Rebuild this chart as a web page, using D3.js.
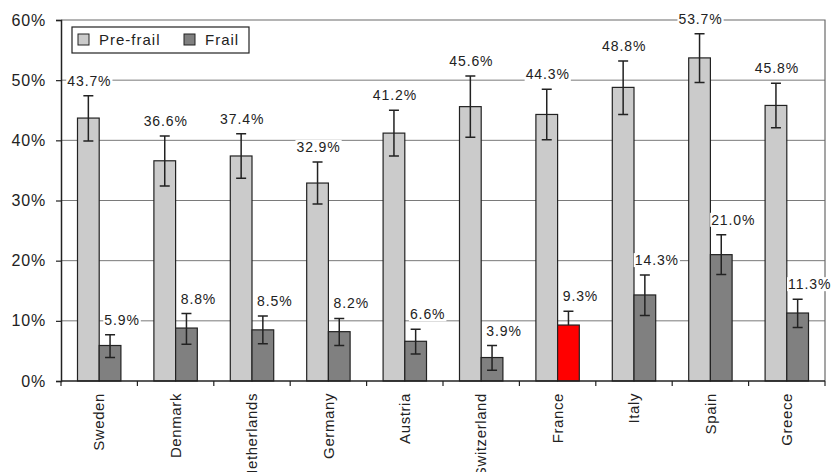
<!DOCTYPE html>
<html>
<head>
<meta charset="utf-8">
<script src="https://cdn.jsdelivr.net/npm/d3@7"></script>
<style>
  body { margin: 0; background: #fff; }
  text { font-family: "Liberation Sans", Arial, sans-serif; fill: #222; }
</style>
</head>
<body>
<svg id="drawing_region"></svg>
<script>
// data (percent)
const countries = ["Sweden", "Denmark", "Netherlands", "Germany", "Austria", "Switzerland", "France", "Italy", "Spain", "Greece"];
const series = ["Pre-frail", "Frail"];
const preFrail     = [43.7, 36.6, 37.4, 32.9, 41.2, 45.6, 44.3, 48.8, 53.7, 45.8];
const preFrailLow  = [39.9, 32.4, 33.7, 29.4, 37.4, 40.5, 40.1, 44.3, 49.6, 42.1];
const preFrailHigh = [47.4, 40.7, 41.1, 36.4, 45.0, 50.7, 48.5, 53.2, 57.7, 49.5];
const frail        = [5.9, 8.8, 8.5, 8.2, 6.6, 3.9, 9.3, 14.3, 21.0, 11.3];
const frailLow     = [3.9, 6.1, 6.2, 5.9, 4.5, 1.8, 7.0, 10.9, 17.7, 8.9];
const frailHigh    = [7.7, 11.2, 10.8, 10.4, 8.6, 5.9, 11.6, 17.6, 24.3, 13.6];
const yTicks = [0, 10, 20, 30, 40, 50, 60];
const highlight = "France";

const colors = { "Pre-frail": "#cbcbcb", "Frail": "#808080" };

// one row per bar
const bars = [];
countries.forEach((c, i) => {
    bars.push({ country: c, series: "Pre-frail", value: preFrail[i], lo: preFrailLow[i], hi: preFrailHigh[i] });
    bars.push({ country: c, series: "Frail", value: frail[i], lo: frailLow[i], hi: frailHigh[i] });
});

const config = {
    width: 834,
    height: 472,
    margin: { top: 20, right: 9, bottom: 91, left: 61 }
};
const W = config.width, H = config.height, m = config.margin;

const svg = d3.select("#drawing_region")
    .attr("width", W)
    .attr("height", H);

const x0 = d3.scaleBand()
    .domain(countries)
    .range([m.left, W - m.right]);

const x1 = d3.scaleBand()
    .domain(series)
    .range([0, x0.bandwidth()])
    .paddingOuter(0.76);

const y = d3.scaleLinear()
    .domain([0, 60])
    .range([H - m.bottom, m.top]);

// grid lines
svg.append("g")
    .selectAll("line")
    .data(yTicks.filter(t => t > 0 && t < 60))
    .enter()
    .append("line")
    .attr("x1", m.left)
    .attr("x2", W - m.right)
    .attr("y1", d => y(d))
    .attr("y2", d => y(d))
    .attr("stroke", "#7a7a7a")
    .attr("stroke-width", 1);

// top and right frame
svg.append("path")
    .attr("d", `M${m.left},${y(60)}H${W - m.right}V${y(0)}`)
    .attr("fill", "none")
    .attr("stroke", "#6a6a6a")
    .attr("stroke-width", 1.2);

const barX = d => x0(d.country) + x1(d.series);
const isHi = d => d.country === highlight && d.series === "Frail";

// bars
svg.append("g")
    .selectAll("rect")
    .data(bars.filter(d => !isHi(d)))
    .enter()
    .append("rect")
    .attr("x", barX)
    .attr("y", d => y(d.value))
    .attr("width", x1.bandwidth())
    .attr("height", d => y(0) - y(d.value))
    .attr("fill", d => colors[d.series])
    .attr("stroke", "#222")
    .attr("stroke-width", 1.2);

// error bars
const cap = 5;
const eb = svg.append("g")
    .attr("stroke", "#222")
    .attr("stroke-width", 1.5);

eb.selectAll("path")
    .data(bars)
    .enter()
    .append("path")
    .attr("fill", "none")
    .attr("d", d => {
        const cx = barX(d) + x1.bandwidth() / 2;
        return `M${cx},${y(d.lo)}V${y(d.hi)}` +
            `M${cx - cap},${y(d.hi)}H${cx + cap}` +
            `M${cx - cap},${y(d.lo)}H${cx + cap}`;
    });

// highlighted bar drawn over its error bar
svg.append("g")
    .selectAll("rect")
    .data(bars.filter(isHi))
    .enter()
    .append("rect")
    .attr("x", barX)
    .attr("y", d => y(d.value))
    .attr("width", x1.bandwidth())
    .attr("height", d => y(0) - y(d.value))
    .attr("fill", "#ff0000")
    .attr("stroke", "#222")
    .attr("stroke-width", 1.2);

// y axis
const yAxis = svg.append("g")
    .attr("transform", `translate(${m.left},0)`)
    .call(d3.axisLeft(y).tickValues(yTicks).tickFormat(d => d + "%").tickSize(5).tickPadding(10));
yAxis.select(".domain").attr("stroke", "#222").attr("stroke-width", 1.5);
yAxis.selectAll(".tick line").attr("stroke", "#222").attr("stroke-width", 1.2);
yAxis.selectAll("text")
    .style("font-family", '"Liberation Sans", Arial, sans-serif')
    .style("font-size", "16px")
    .style("letter-spacing", "0.8px")
    .attr("fill", "#222");

// x axis line, ticks between categories
const xg = svg.append("g");
xg.append("line")
    .attr("x1", m.left)
    .attr("x2", W - m.right)
    .attr("y1", y(0))
    .attr("y2", y(0))
    .attr("stroke", "#222")
    .attr("stroke-width", 1.5);

const bounds = countries.map(c => x0(c)).concat([x0.range()[1]]);
xg.selectAll("line.tk")
    .data(bounds)
    .enter()
    .append("line")
    .attr("class", "tk")
    .attr("x1", d => d)
    .attr("x2", d => d)
    .attr("y1", y(0))
    .attr("y2", y(0) + 5)
    .attr("stroke", "#222")
    .attr("stroke-width", 1.2);

xg.selectAll("text")
    .data(countries)
    .enter()
    .append("text")
    .attr("transform", d => `translate(${x0(d) + x0.bandwidth() / 2},${y(0) + 12}) rotate(-90)`)
    .attr("text-anchor", "end")
    .attr("dy", "0.35em")
    .style("font-size", "15px")
    .style("letter-spacing", "0.6px")
    .text(d => d);

// value labels with white backing
const lab = svg.append("g");
const labels = lab.selectAll("g")
    .data(bars)
    .enter()
    .append("g")
    .attr("transform", d => {
        const cx = barX(d) + x1.bandwidth() / 2 + (d.series === "Frail" ? 12 : 1);
        return `translate(${cx},${y(d.hi) - 10})`;
    });

labels.append("text")
    .attr("text-anchor", "middle")
    .style("font-size", "14px")
    .style("letter-spacing", "0.9px")
    .text(d => d.value.toFixed(1) + "%");

labels.each(function() {
    const g = d3.select(this);
    const bb = g.select("text").node().getBBox();
    g.insert("rect", "text")
        .attr("x", bb.x - 1)
        .attr("y", bb.y + 1)
        .attr("width", bb.width + 2)
        .attr("height", bb.height - 2)
        .attr("fill", "#fff");
});

// legend
const legend = svg.append("g")
    .attr("transform", "translate(72,27)");

legend.append("rect")
    .attr("width", 177)
    .attr("height", 26)
    .attr("fill", "#fff")
    .attr("stroke", "#222")
    .attr("stroke-width", 1.2);

const legendX = [6, 112];
const li = legend.selectAll("g")
    .data(series)
    .enter()
    .append("g")
    .attr("transform", (d, i) => `translate(${legendX[i]},7)`);

li.append("rect")
    .attr("width", 11)
    .attr("height", 11)
    .attr("fill", d => colors[d])
    .attr("stroke", "#222")
    .attr("stroke-width", 1);

li.append("text")
    .attr("x", 21)
    .attr("y", 11)
    .style("font-size", "15px")
    .style("letter-spacing", "1px")
    .text(d => d);
</script>
</body>
</html>
